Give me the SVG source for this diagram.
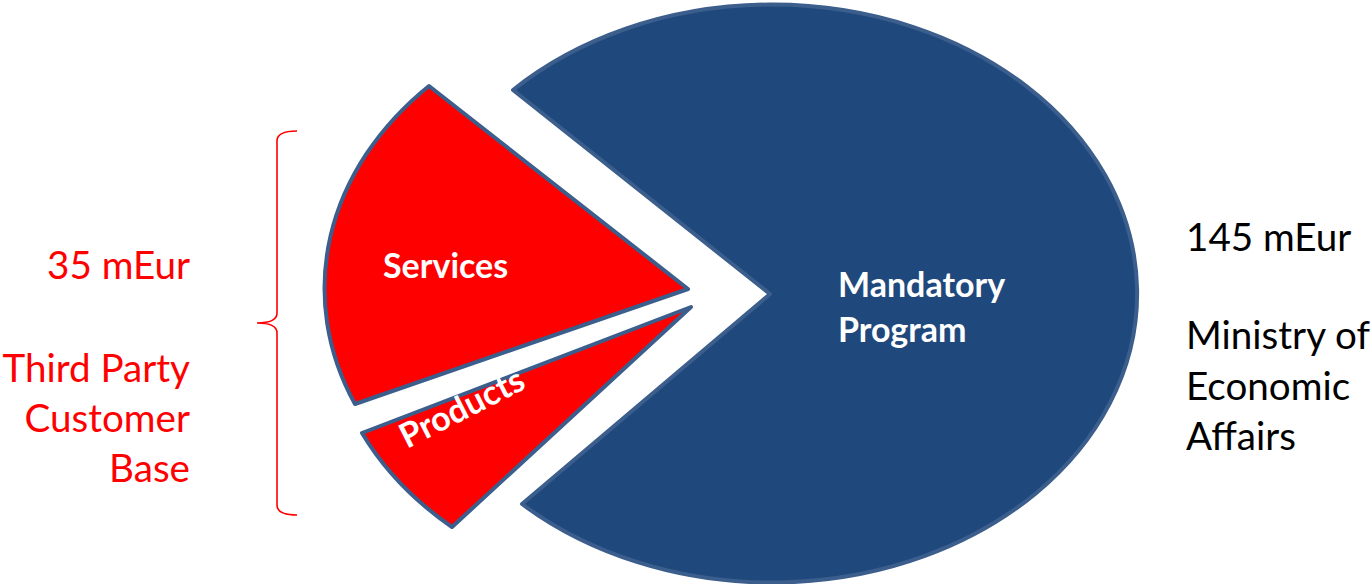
<svg xmlns="http://www.w3.org/2000/svg" width="1372" height="584" viewBox="0 0 1372 584">
<style>
.slice{stroke:#3B5E8C;stroke-width:4;stroke-linejoin:round}
.blue{fill:#1F497D}
.red{fill:#FF0000}
.lbl{font-family:Lato,"Liberation Sans",sans-serif;font-weight:bold;font-size:34px;fill:#FFFFFF}
.side{font-family:Lato,"Liberation Sans",sans-serif;font-size:38.6px}
.rside{fill:#FF0000;text-anchor:end}
.bside{fill:#000000}
</style>
<rect width="1372" height="584" fill="#FFFFFF"/>
<g id="mandatory">
<path class="slice blue" d="M 770 294 L 513 90 A 365 289 0 1 1 522 504 Z"/>
<text class="lbl" x="838" y="297">Mandatory</text>
<text class="lbl" x="838" y="342">Program</text>
</g>
<g id="services">
<path class="slice red" d="M 688 289 L 355 404 A 365 289 0 0 1 429 86 Z"/>
<text class="lbl" x="383" y="278">Services</text>
</g>
<g id="products">
<path class="slice red" d="M 691 307 L 452 527 A 365 289 0 0 1 362 433 Z"/>
<text class="lbl" x="407" y="449" transform="rotate(-27 407 449)">Products</text>
</g>
<g id="connectors">
<path d="M 297 131 Q 277 131 277 141 L 277 313 Q 277 323 257 323 Q 277 323 277 333 L 277 505 Q 277 515 297 515" fill="none" stroke="#FF0000" stroke-width="1.6"/>
</g>
<g id="third-party">
<text class="side rside" x="190" y="279">35 mEur</text>
<text class="side rside" x="190" y="382">Third Party</text>
<text class="side rside" x="190" y="432">Customer</text>
<text class="side rside" x="190" y="482">Base</text>
</g>
<g id="ministry">
<text class="side bside" x="1186" y="251">145 mEur</text>
<text class="side bside" x="1186" y="349">Ministry of</text>
<text class="side bside" x="1186" y="400">Economic</text>
<text class="side bside" x="1186" y="450">Affairs</text>
</g>
</svg>
